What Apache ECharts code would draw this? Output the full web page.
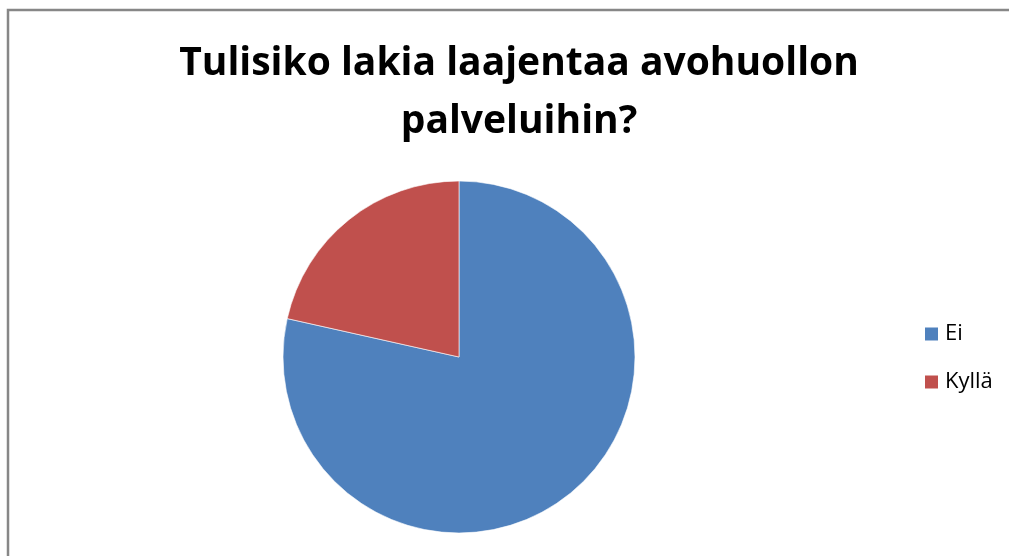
<!DOCTYPE html>
<html>
<head>
<meta charset="utf-8">
<script src="https://cdn.jsdelivr.net/npm/echarts@6/dist/echarts.min.js"></script>
<style>
html,body{margin:0;padding:0;background:#fff;}
#chart{width:1009px;height:556px;}
</style>
</head>
<body>
<div id="chart"></div>
<script>
const titleLines = ["Tulisiko lakia laajentaa avohuollon", "palveluihin?"];
const categories = ["Ei", "Kyllä"];
const values = [78.5, 21.5];
const colors = ["#4F81BD", "#C0504D"];

const chart = echarts.init(document.getElementById('chart'));
chart.setOption({
  backgroundColor: '#ffffff',
  animation: false,
  title: {
    text: titleLines.join('\n'),
    left: 514,
    textAlign: 'center',
    top: 30,
    textStyle: {
      fontFamily: 'Open Sans',
      fontWeight: 'bold',
      fontSize: 39,
      lineHeight: 58,
      color: '#000'
    }
  },
  legend: {
    orient: 'vertical',
    left: 918,
    top: 318,
    itemWidth: 15,
    itemHeight: 15,
    itemGap: 26,
    icon: 'rect',
    textStyle: { fontFamily: 'Open Sans', fontSize: 22, color: '#000', padding: [0,0,0,1] },
    data: categories
  },
  graphic: [{
    type: 'rect',
    shape: { x: 8, y: 10, width: 1100, height: 600 },
    style: { fill: 'none', stroke: '#878787', lineWidth: 2.5 },
    silent: true
  }],
  series: [{
    type: 'pie',
    center: [459, 357],
    radius: 176,
    startAngle: 90,
    clockwise: true,
    label: { show: false },
    labelLine: { show: false },
    itemStyle: { borderColor: '#ffffff', borderWidth: 0.6 },
    emphasis: { disabled: true },
    data: categories.map((c, i) => ({ name: c, value: values[i], itemStyle: { color: colors[i] } }))
  }]
});
</script>
</body>
</html>
